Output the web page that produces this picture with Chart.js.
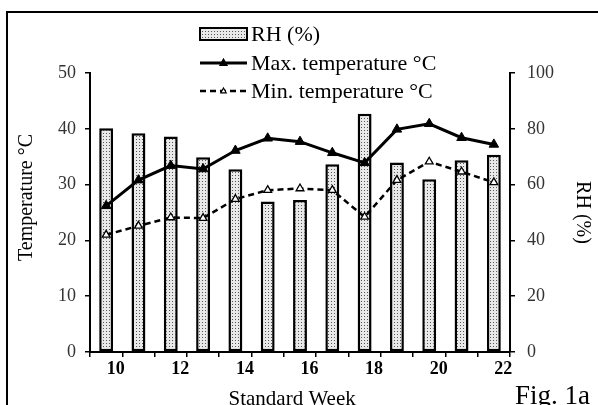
<!DOCTYPE html>
<html>
<head>
<meta charset="utf-8">
<script src="https://cdn.jsdelivr.net/npm/chart.js@4.4.1/dist/chart.umd.min.js"></script>
<style>
  html, body { margin: 0; padding: 0; background: #fff; overflow: hidden; }
  canvas { display: block; }
</style>
</head>
<body>
<canvas id="weather_chart" width="598" height="405"></canvas>
<script>
// standard weeks and weekly weather readings
var weeks = ['10', '11', '12', '13', '14', '15', '16', '17', '18', '19', '20', '21', '22'];
var rh = [80.2, 78.4, 77.2, 69.8, 65.5, 53.9, 54.5, 67.3, 85.4, 67.9, 61.9, 68.7, 70.7];
var max_temp = [26.2, 30.8, 33.4, 32.8, 36.1, 38.3, 37.7, 35.7, 33.9, 39.9, 40.9, 38.4, 37.2];
var min_temp = [21.0, 22.6, 24.1, 24.0, 27.4, 29.0, 29.3, 29.0, 24.2, 30.8, 34.1, 32.3, 30.4];
var temp_ticks = [0, 10, 20, 30, 40, 50];
var rh_ticks = [0, 20, 40, 60, 80, 100];

var serif = "'Liberation Serif', 'Times New Roman', serif";

function dotted_pattern() {
    var tile = document.createElement('canvas');
    tile.width = 3;
    tile.height = 3;
    var t = tile.getContext('2d');
    t.fillStyle = '#e9e9e9';
    t.fillRect(0, 0, 3, 3);
    t.fillStyle = '#555';
    t.fillRect(1, 1, 1, 1);
    return t.createPattern(tile, 'repeat');
}

var ctx = document.getElementById('weather_chart').getContext('2d');
var pattern = dotted_pattern();

// outer frame of the figure
var frame_plugin = {
    id: 'frame',
    beforeDraw: function(chart) {
        var c = chart.ctx;
        c.save();
        c.fillStyle = '#fff';
        c.fillRect(0, 0, chart.width, chart.height);
        c.strokeStyle = '#000';
        c.lineWidth = 2;
        c.strokeRect(7, 12, 700, 500);
        c.restore();
    }
};

function draw_triangle(c, x, y, r, fill) {
    c.beginPath();
    c.moveTo(x, y - r);
    c.lineTo(x + r * 0.9, y + r * 0.6);
    c.lineTo(x - r * 0.9, y + r * 0.6);
    c.closePath();
    c.fillStyle = fill;
    c.fill();
    c.stroke();
}

// legend sits inside the frame, above the plot
var legend_plugin = {
    id: 'figLegend',
    afterDraw: function(chart) {
        var c = chart.ctx;
        var ds = chart.data.datasets;
        var x0 = 200, x1 = 247, tx = 251;
        var rows = [34, 63, 91];
        c.save();
        c.font = '22px ' + serif;
        c.textBaseline = 'middle';
        c.textAlign = 'left';

        // RH box
        c.fillStyle = pattern;
        c.fillRect(x0, rows[0] - 6, x1 - x0, 12);
        c.strokeStyle = '#000';
        c.lineWidth = 2;
        c.strokeRect(x0, rows[0] - 6, x1 - x0, 12);
        c.fillStyle = '#000';
        c.fillText(ds[0].label, tx, rows[0] + 1);

        // line entries
        for (var i = 1; i < 3; i++) {
            var d = ds[i];
            var y = rows[i];
            c.strokeStyle = '#000';
            c.lineWidth = d.borderWidth;
            c.setLineDash(d.borderDash || []);
            c.beginPath();
            c.moveTo(x0, y);
            c.lineTo(x1, y);
            c.stroke();
            c.setLineDash([]);
            c.lineWidth = 1.2;
            draw_triangle(c, (x0 + x1) / 2, y, d.pointRadius - 1.5, d.pointBackgroundColor);
            c.fillStyle = '#000';
            c.fillText(d.label, tx, y + 1);
        }

        // figure tag
        c.font = '27px ' + serif;
        c.textBaseline = 'alphabetic';
        c.fillText('Fig. 1a', 515, 404);
        c.restore();
    }
};

var chart = new Chart(ctx, {
    type: 'bar',
    data: {
        labels: weeks,
        datasets: [{
            type: 'bar',
            label: 'RH (%)',
            data: rh,
            yAxisID: 'y1',
            backgroundColor: pattern,
            borderColor: '#000',
            borderWidth: 2.5,
            borderSkipped: false,
            barPercentage: 0.43,
            categoryPercentage: 1,
            order: 3
        }, {
            type: 'line',
            label: 'Max. temperature °C',
            data: max_temp,
            yAxisID: 'y',
            borderColor: '#000',
            borderWidth: 3,
            tension: 0,
            pointStyle: 'triangle',
            pointRadius: 5.5,
            pointBackgroundColor: '#000',
            pointBorderColor: '#000',
            pointBorderWidth: 1,
            order: 1
        }, {
            type: 'line',
            label: 'Min. temperature °C',
            data: min_temp,
            yAxisID: 'y',
            borderColor: '#000',
            borderWidth: 2.5,
            borderDash: [6, 4],
            tension: 0,
            pointStyle: 'triangle',
            pointRadius: 4.5,
            pointBackgroundColor: '#fff',
            pointBorderColor: '#000',
            pointBorderWidth: 1.3,
            order: 2
        }]
    },
    options: {
        responsive: false,
        maintainAspectRatio: false,
        animation: false,
        devicePixelRatio: 1,
        layout: { padding: { top: 73, left: 0, right: 0, bottom: 0 } },
        plugins: {
            legend: { display: false },
            tooltip: { enabled: false },
            title: { display: false }
        },
        scales: {
            x: {
                type: 'category',
                offset: true,
                grid: {
                    offset: true,
                    drawOnChartArea: false,
                    drawTicks: true,
                    tickLength: 5,
                    color: '#000',
                    lineWidth: 1.5
                },
                border: { display: true, color: '#000', width: 2 },
                ticks: {
                    autoSkip: false,
                    maxRotation: 0,
                    padding: 2,
                    labelOffset: 9.5,
                    color: '#000',
                    font: { family: serif, size: 18, weight: 'bold' },
                    callback: function(value, i) {
                        return i % 2 === 0 ? weeks[i] : '';
                    }
                },
                title: {
                    display: true,
                    text: 'Standard Week   ',
                    color: '#000',
                    font: { family: serif, size: 21, lineHeight: 1 },
                    padding: { top: 0, bottom: -4.5 }
                },
                afterFit: function(scale) { scale.height = 53; }
            },
            y: {
                position: 'left',
                min: 0,
                max: 50,
                afterBuildTicks: function(scale) {
                    scale.ticks = temp_ticks.map(function(v) { return { value: v }; });
                },
                grid: {
                    drawOnChartArea: false,
                    tickLength: 5,
                    color: '#000',
                    lineWidth: 1.5
                },
                border: { display: true, color: '#000', width: 2 },
                ticks: {
                    padding: 9,
                    color: '#333',
                    font: { family: serif, size: 18 }
                },
                title: {
                    display: true,
                    text: '      Temperature °C',
                    color: '#000',
                    font: { family: serif, size: 20, lineHeight: 1 },
                    padding: { top: 17, bottom: 0 }
                },
                afterFit: function(scale) { scale.width = 90; }
            },
            y1: {
                position: 'right',
                min: 0,
                max: 100,
                afterBuildTicks: function(scale) {
                    scale.ticks = rh_ticks.map(function(v) { return { value: v }; });
                },
                grid: {
                    drawOnChartArea: false,
                    tickLength: 5,
                    color: '#000',
                    lineWidth: 1.5
                },
                border: { display: true, color: '#000', width: 2 },
                ticks: {
                    padding: 12,
                    color: '#333',
                    font: { family: serif, size: 18 }
                },
                title: {
                    display: true,
                    text: 'RH (%)',
                    color: '#000',
                    font: { family: serif, size: 20, lineHeight: 1 },
                    padding: { top: 6, bottom: 0 }
                },
                afterFit: function(scale) { scale.width = 88; }
            }
        }
    },
    plugins: [frame_plugin, legend_plugin]
});
</script>
</body>
</html>
